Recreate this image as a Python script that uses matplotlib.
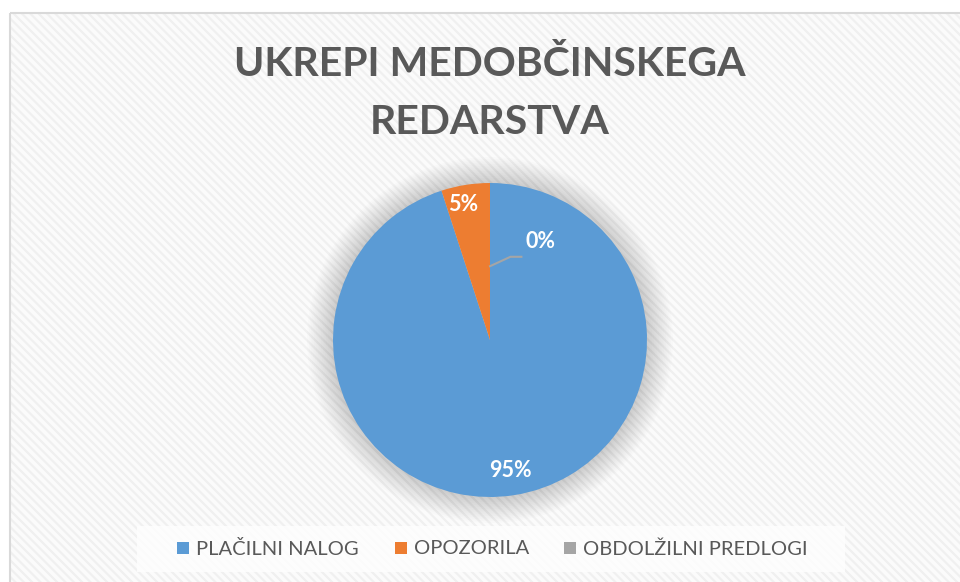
import matplotlib
matplotlib.use('Agg')
import matplotlib.pyplot as plt
from matplotlib.patches import Rectangle, Circle

# data
categories = ['PLAČILNI NALOG', 'OPOZORILA', 'OBDOLŽILNI PREDLOGI']
values     = [95, 5, 0]
labels     = ['95%', '5%', '0%']
colours    = ['#5B9BD5', '#ED7D31', '#A5A5A5']
title      = ['UKREPI MEDOBČINSKEGA', 'REDARSTVA']

W, H = 960, 582
plt.rcParams['hatch.linewidth'] = 1.6
fig = plt.figure(figsize=(W / 100, H / 100), dpi=100)

# background axes in pixel coordinates
bg = fig.add_axes([0, 0, 1, 1])
bg.set_xlim(0, W)
bg.set_ylim(H, 0)
bg.axis('off')
bg.add_patch(Rectangle((10, 13), W, H, facecolor='#fbfbfb', edgecolor='none'))
bg.add_patch(Rectangle((10, 13), W, H, facecolor='none', edgecolor='#f0f0f0',
                       hatch='\\\\\\\\', lw=0))
bg.add_patch(Rectangle((10, 13), W, H, facecolor='none', edgecolor='#d9d9d9', lw=1.5))

# legend strip
bg.add_patch(Rectangle((137, 526), 708, 46, facecolor='white', alpha=0.75,
                       edgecolor='none'))

for line, ty in zip(title, [64, 122]):
    bg.text(490, ty, line, ha='center', va='center', family='Lato',
            fontweight='bold', fontsize=29.5, color='#595959')

# pie
cx, cy, r = 490, 340, 157
ax = fig.add_axes([(cx - r) / W, 1 - (cy + r) / H, 2 * r / W, 2 * r / H])

# soft shadow around the pie
for k in range(16):
    ax.add_patch(Circle((0, 0), 1.0 + 0.011 * k, facecolor='#000000',
                        alpha=0.011, edgecolor='none', zorder=0, clip_on=False))

wedges, _ = ax.pie(values, colors=colours, startangle=90, counterclock=False,
                   radius=1.0, wedgeprops=dict(linewidth=0, zorder=2))
ax.set_xlim(-1, 1)
ax.set_ylim(-1, 1)
ax.set_aspect('equal')

lab_kw = dict(color='white', fontsize=15.5, fontweight='bold', family='Lato',
              ha='center', va='center', zorder=5)
ax.text(0.13, -0.83, labels[0], **lab_kw)
ax.text(-0.17, 0.86, labels[1], **lab_kw)
ax.text(0.32, 0.63, labels[2], **lab_kw)
ax.plot([0.0, 0.13, 0.2], [0.47, 0.53, 0.53], color='#A5A5A5', lw=1.5, zorder=4)

# legend
leg_x = [177, 395, 564]
for i, (cat, col) in enumerate(zip(categories, colours)):
    bg.add_patch(Rectangle((leg_x[i], 542), 12, 12, facecolor=col, edgecolor='none'))
    bg.text(leg_x[i] + 19, 549, cat, ha='left', va='center', family='Lato',
            fontsize=14.5, color='#595959')

fig.savefig('out.png', dpi=100)
